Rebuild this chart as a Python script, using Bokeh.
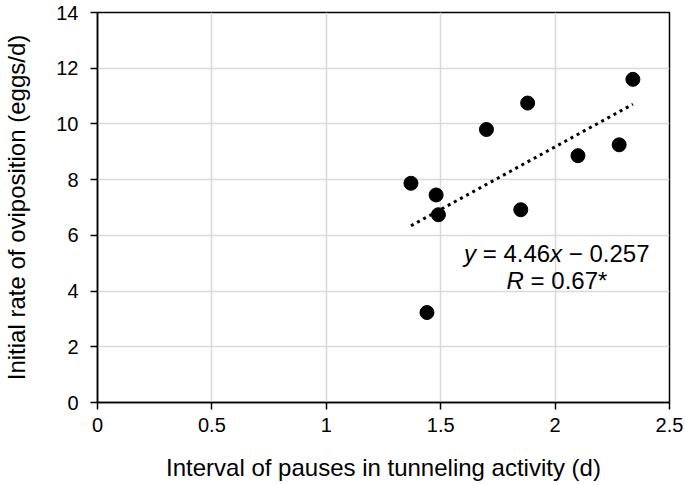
import numpy as np
from bokeh.plotting import figure
from bokeh.models import Range1d, FixedTicker, Label, ColumnDataSource
from bokeh.embed import file_html
from bokeh.resources import INLINE

# ---- data ----
interval_d = [1.37, 1.48, 1.49, 1.44, 1.70, 1.88, 1.85, 2.10, 2.28, 2.34]
oviposition_rate = [7.87, 7.45, 6.74, 3.23, 9.80, 10.75, 6.92, 8.86, 9.25, 11.60]

x_ticks = [0, 0.5, 1, 1.5, 2, 2.5]
x_tick_labels = ["0", "0.5", "1", "1.5", "2", "2.5"]
y_ticks = [0, 2, 4, 6, 8, 10, 12, 14]
y_tick_labels = ["0", "2", "4", "6", "8", "10", "12", "14"]

x_title = "Interval of pauses in tunneling activity (d)"
y_title = "Initial rate of oviposition (eggs/d)"
eq_line1 = [("y", "italic"), ("= 4.46", "normal"), ("x", "italic"), ("\u2212 0.257", "normal")]
eq_line2 = [("R", "italic"), ("= 0.67*", "normal")]

FONT = "Liberation Sans"

p = figure(width=683, height=483, output_backend="svg", toolbar_location=None,
           x_range=Range1d(0, 2.5), y_range=Range1d(0, 14),
           min_border_left=93, min_border_right=14, min_border_top=12, min_border_bottom=80)
p.background_fill_color = "white"
p.border_fill_color = "white"
p.outline_line_color = "black"
p.outline_line_width = 1.5

for ax in (p.xaxis[0], p.yaxis[0]):
    ax.axis_line_color = "black"
    ax.axis_line_width = 1.5
    ax.major_tick_line_color = "black"
    ax.major_tick_line_width = 1.5
    ax.major_tick_in = 0
    ax.major_tick_out = 7
    ax.minor_tick_line_color = None
    ax.major_label_text_font = FONT
    ax.major_label_text_font_size = "20px"
    ax.major_label_text_color = "black"
    ax.axis_label_text_font = FONT
    ax.axis_label_text_font_size = "24px"
    ax.axis_label_text_font_style = "normal"
    ax.axis_label_text_color = "black"

p.xaxis.ticker = FixedTicker(ticks=x_ticks)
p.xaxis.major_label_overrides = dict(zip(x_ticks, x_tick_labels))
p.yaxis.ticker = FixedTicker(ticks=y_ticks)
p.yaxis.major_label_overrides = dict(zip(y_ticks, y_tick_labels))
p.xaxis.axis_label = x_title
p.yaxis.axis_label = y_title
p.xaxis.major_label_standoff = 8
p.yaxis.major_label_standoff = 12
p.xaxis.axis_label_standoff = 19
p.yaxis.axis_label_standoff = 23

p.xgrid.grid_line_color = "#d9d9d9"
p.ygrid.grid_line_color = "#d9d9d9"
p.xgrid.grid_line_width = 1.5
p.ygrid.grid_line_width = 1.5

# trend line (least squares)
slope, intercept = np.polyfit(interval_d, oviposition_rate, 1)
xs = [min(interval_d), max(interval_d)]
ys = [slope * v + intercept for v in xs]
p.line(xs, ys, line_color="black", line_width=3, line_dash="3 4")

src = ColumnDataSource(dict(x=interval_d, y=oviposition_rate))
p.scatter("x", "y", source=src, size=14, color="black")

# equation annotation
F = 24
def add_line(parts, x0, y0, widths):
    off = 0.0
    for (txt, style), w in zip(parts, widths):
        p.add_layout(Label(x=x0, y=y0, x_offset=off, text=txt, text_font=FONT,
                           text_font_size=f"{F}px", text_font_style=style,
                           text_color="black", text_baseline="alphabetic",
                           text_align="left"))
        off += w

sp = 0.278 * F
w_y = 0.5 * F
w_eq = (0.584 + 0.278 + 0.556 * 3 + 0.278) * F
w_x = 0.5 * F
add_line(eq_line1, 1.602, 5.35, [w_y + sp, w_eq, w_x + sp, 0])
add_line(eq_line2, 1.788, 4.38, [0.722 * F + sp, 0])

open("out.html", "w").write(file_html(p, INLINE))
